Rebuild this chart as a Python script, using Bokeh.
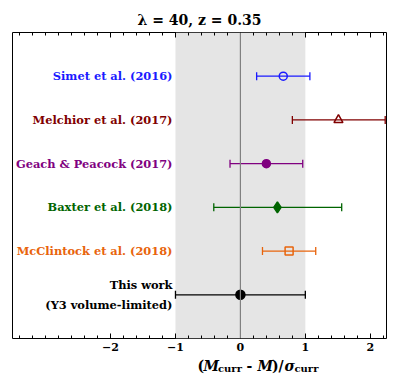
import numpy as np
from bokeh.plotting import figure
from bokeh.layouts import column
from bokeh.models import (ColumnDataSource, Range1d, LinearAxis, FixedTicker, Span,
                          BoxAnnotation, Whisker, TeeHead, Label)
from bokeh.core.properties import value
from bokeh.embed import file_html
from bokeh.resources import INLINE

# ---- data ----
studies = ["Simet et al. (2016)", "Melchior et al. (2017)", "Geach & Peacock (2017)",
           "Baxter et al. (2018)", "McClintock et al. (2018)", "This work\n(Y3 volume-limited)"]
center = [0.66, 1.51, 0.40, 0.57, 0.75, 0.00]
lower = [0.25, 0.80, -0.16, -0.41, 0.34, -1.00]
upper = [1.07, 2.23, 0.96, 1.56, 1.16, 1.00]
colors = ["#1a1aff", "#800000", "#800080", "#006400", "#e8640c", "#000000"]
markers = ["circle", "triangle", "circle", "diamond", "square", "circle"]
filled = [False, False, True, True, False, True]
msizes = [8, 9, 8, 11, 8, 9]
shade_bounds = [-1, 1]
x_major_ticks = [-2, -1, 0, 1, 2]
x_minor_ticks = [round(v, 1) for v in np.arange(-3.4, 2.21, 0.2)]
x_limits = [-3.51, 2.25]
title_text = "λ = 40, z = 0.35"

n = len(studies)
ypos = list(range(n))[::-1]

src = ColumnDataSource(dict(
    y=ypos, x=center, lo=lower, hi=upper, color=colors, marker=markers,
    falpha=[1.0 if f else 0.0 for f in filled], size=msizes, label=studies,
    lx=[shade_bounds[0]] * n,
))

FONT = "DejaVu Serif"
W, H, HL = 394, 356, 30

p = figure(width=W, height=H, output_backend="svg", toolbar_location=None,
           x_range=Range1d(*x_limits), y_range=Range1d(-1, n),
           y_axis_location=None, x_axis_location="below",
           min_border_left=12, min_border_right=8, min_border_top=32, min_border_bottom=18)
p.grid.visible = False
p.outline_line_color = "black"
p.outline_line_width = 1
p.background_fill_color = "white"

p.title.text = title_text
p.title.text_font = FONT
p.title.text_font_style = "bold"
p.title.text_font_size = "14px"
p.title.text_color = "black"
p.title.align = "center"

ticker = FixedTicker(ticks=x_major_ticks, minor_ticks=x_minor_ticks)
ax = p.xaxis[0]
ax.ticker = ticker
ax.axis_line_color = None
ax.major_tick_in = 5
ax.major_tick_out = 0
ax.minor_tick_in = 3
ax.minor_tick_out = 0
ax.major_label_text_font = FONT
ax.major_label_text_font_style = "bold"
ax.major_label_text_font_size = "11px"
ax.major_label_text_color = "black"
ax.major_label_standoff = 4
ax.major_label_overrides = {t: (("\u2212" + str(abs(t))) if t < 0 else str(t)) for t in x_major_ticks}

top = LinearAxis(ticker=ticker, axis_line_color=None, major_tick_in=5, major_tick_out=0,
                 minor_tick_in=3, minor_tick_out=0, major_label_standoff=0,
                 major_label_overrides={t: "" for t in x_major_ticks})
p.add_layout(top, "above")

p.add_layout(BoxAnnotation(left=shade_bounds[0], right=shade_bounds[1], fill_color="#e5e5e5",
                           fill_alpha=1, line_color=None, level="underlay"))
p.add_layout(Span(location=0, dimension="height", line_color="#808080", line_width=1.2))

for i in range(n):
    s = ColumnDataSource(dict(y=[ypos[i]], lo=[lower[i]], hi=[upper[i]]))
    w = Whisker(source=s, base="y", lower="lo", upper="hi", dimension="width",
                line_color=colors[i], line_width=1.3,
                lower_head=TeeHead(size=8, line_color=colors[i], line_width=1.3),
                upper_head=TeeHead(size=8, line_color=colors[i], line_width=1.3))
    p.add_layout(w)

p.scatter("x", "y", source=src, marker="marker", size="size", line_color="color",
          fill_color="color", fill_alpha="falpha", line_width=1.5)

p.text("lx", "y", text="label", source=src, x_offset=-3, text_align="right",
       text_baseline="middle", text_color="color", text_font=value(FONT),
       text_font_style="bold", text_font_size="11.4px", text_line_height=1.45)

# ---- x-axis label strip: (M_curr - M)/sigma_curr ----
lab = figure(width=W, height=HL, output_backend="svg", toolbar_location=None,
             x_axis_location=None, y_axis_location=None, title=None,
             min_border_left=0, min_border_right=0, min_border_top=0, min_border_bottom=0)
lab.grid.visible = False
lab.outline_line_color = None
lab.background_fill_color = "white"

pieces = [("(", "bold", 14, 0, 0.0), ("M", "bold italic", 14, 0, 6.0),
          ("curr", "bold", 10, -3, 20.5), ("-", "bold", 14, 0, 49.0),
          ("M", "bold italic", 14, 0, 60.0), (")/", "bold", 14, 0, 74.5),
          ("σ", "bold italic", 14, 0, 87.0), ("curr", "bold", 10, -3, 97.0)]
x0, base = 185, 21
for txt, style, fs, dy, dx in pieces:
    lab.add_layout(Label(x=x0 + dx, y=base + dy, x_units="screen", y_units="screen",
                         text=txt, text_font=FONT, text_font_style=style, text_color="black",
                         text_font_size=f"{fs}px", text_baseline="alphabetic", text_align="left"))

layout = column(p, lab, spacing=0)
open("out.html", "w").write(file_html(layout, INLINE))
